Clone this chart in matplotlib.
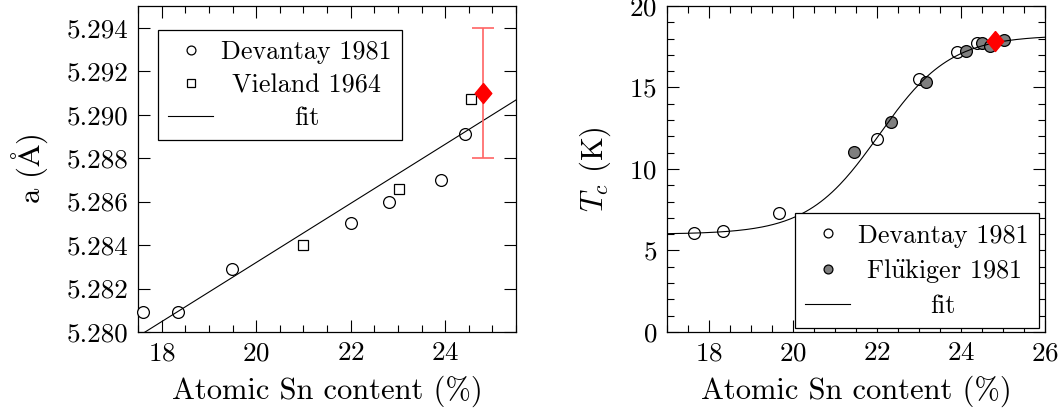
import numpy as np
import matplotlib
matplotlib.use("Agg")
import matplotlib.pyplot as plt
from matplotlib.ticker import MultipleLocator, FormatStrFormatter
from matplotlib.offsetbox import HPacker, DrawingArea

plt.rcParams['font.family'] = 'serif'
plt.rcParams['font.serif'] = ['cmr10']
plt.rcParams['mathtext.fontset'] = 'cm'
plt.rcParams['axes.formatter.use_mathtext'] = True
plt.rcParams['axes.unicode_minus'] = False

# lattice parameter a (Angstrom) vs Sn content
dev_a_x = [17.61, 18.34, 19.49, 22.00, 22.82, 23.91, 24.42]
dev_a_y = [5.2809, 5.2809, 5.2829, 5.2850, 5.2860, 5.2870, 5.2891]
vie_a_x = [21.00, 23.03, 24.55]
vie_a_y = [5.2840, 5.2866, 5.2907]
a_fit = [1.36e-3, 5.255996]          # slope, intercept
sample_x = 24.8
sample_a = 5.291
sample_a_err = 0.003

# critical temperature Tc (K) vs Sn content
dev_tc_x = [17.64, 18.34, 19.66, 22.00, 23.00, 23.91, 24.37]
dev_tc_y = [6.07, 6.20, 7.33, 11.83, 15.54, 17.19, 17.71]
flu_tc_x = [21.45, 22.34, 23.17, 24.13, 24.49, 24.69, 25.03]
flu_tc_y = [11.07, 12.89, 15.36, 17.25, 17.75, 17.54, 17.91]
tc_fit = [6.0, 18.2, 22.05, 0.85]    # low, high, centre, width
sample_tc = 17.85

TICK_FS = 19.5
LABEL_FS = 22
LEG_FS = 18.8

# diamond a bit wider than the built-in thin one
DIAMOND = [(0, 1), (0.83, 0), (0, -1), (-0.83, 0), (0, 1)]


def boltzmann(x, lo, hi, x0, dx):
    return hi + (lo - hi) / (1 + np.exp((x - x0) / dx))


def style_axes(ax):
    ax.tick_params(which='both', direction='in', top=True, right=True,
                   labelsize=TICK_FS, pad=7)
    ax.tick_params(which='major', length=8.5, width=0.8)
    ax.tick_params(which='minor', length=5, width=0.8)
    for s in ax.spines.values():
        s.set_linewidth(0.9)


def make_legend(ax, **kw):
    leg = ax.legend(borderaxespad=0, fontsize=LEG_FS, fancybox=False, framealpha=1,
                    edgecolor='black', handlelength=1.72, handletextpad=0.3,
                    borderpad=0.4, labelspacing=0.35, markerscale=0.75, **kw)
    leg.get_frame().set_linewidth(0.9)
    leg.set_zorder(10)
    return leg


def center_legend_text(leg):
    # put legend labels in the middle of the text column
    r = leg.figure.canvas.get_renderer()
    col = leg._legend_handle_box.get_children()[0]
    rows = col.get_children()
    wmax = max(row.get_children()[1].get_bbox(r).width for row in rows)
    for row in rows:
        h, t = row.get_children()
        row._children = [h, HPacker(pad=0, sep=0, width=wmax, mode='expand',
                                    align='baseline',
                                    children=[DrawingArea(0, 0), t, DrawingArea(0, 0)])]


fig = plt.figure(figsize=(10.6, 4.17), dpi=100)
ax1 = fig.add_axes([138 / 1060, 85 / 417, 378 / 1060, 326 / 417])
ax2 = fig.add_axes([667 / 1060, 85 / 417, 378 / 1060, 326 / 417])

# left panel
ax1.plot(dev_a_x, dev_a_y, 'o', ms=8.5, mfc='white', mec='black', mew=0.9,
         label='Devantay 1981', clip_on=False, zorder=3)
ax1.plot(vie_a_x, vie_a_y, 's', ms=7.8, mfc='white', mec='black', mew=0.9,
         label='Vieland 1964', zorder=3)
xf = np.linspace(17.5, 25.5, 50)
ax1.plot(xf, np.polyval(a_fit, xf), '-', color='black', lw=0.8, label='fit', zorder=4)
ax1.errorbar([sample_x], [sample_a], yerr=[sample_a_err], fmt='none',
             ecolor='#ff6464', elinewidth=1.2, capsize=7.8, capthick=1.2, zorder=5)
ax1.plot([sample_x], [sample_a], marker=DIAMOND, ms=14.4, color='red', ls='none', zorder=6)

ax1.set_xlim(17.5, 25.5)
ax1.set_ylim(5.280, 5.295)
ax1.xaxis.set_major_locator(MultipleLocator(2))
ax1.xaxis.set_minor_locator(MultipleLocator(0.5))
ax1.yaxis.set_major_locator(MultipleLocator(0.002))
ax1.yaxis.set_major_formatter(FormatStrFormatter('%.3f'))
style_axes(ax1)
ax1.set_xlabel('Atomic Sn content (%)', fontsize=LABEL_FS, labelpad=7)
ax1.set_ylabel(r'a ($\mathrm{\AA}$)', fontsize=LABEL_FS, labelpad=12)

leg1 = make_legend(ax1, loc='upper left', bbox_to_anchor=(0.053, 0.926))

# right panel
ax2.plot(dev_tc_x, dev_tc_y, 'o', ms=8.5, mfc='white', mec='black', mew=0.9,
         label='Devantay 1981', zorder=3)
ax2.plot(flu_tc_x, flu_tc_y, 'o', ms=8.5, mfc='#7f7f7f', mec='black', mew=0.9,
         label=r'Fl$\ddot{\mathrm{u}}$kiger 1981', zorder=3)
xt = np.linspace(17, 26, 200)
ax2.plot(xt, boltzmann(xt, *tc_fit), '-', color='black', lw=0.8, label='fit', zorder=4)
ax2.plot([sample_x], [sample_tc], marker=DIAMOND, ms=14.4, color='red', ls='none', zorder=6)

ax2.set_xlim(17, 26)
ax2.set_ylim(0, 20)
ax2.xaxis.set_major_locator(MultipleLocator(2))
ax2.xaxis.set_minor_locator(MultipleLocator(0.5))
ax2.yaxis.set_major_locator(MultipleLocator(5))
ax2.yaxis.set_minor_locator(MultipleLocator(1))
style_axes(ax2)
ax2.set_xlabel('Atomic Sn content (%)', fontsize=LABEL_FS, labelpad=7)
ax2.set_ylabel(r'$T_c$ (K)', fontsize=LABEL_FS, labelpad=12)

leg2 = make_legend(ax2, loc='lower right', bbox_to_anchor=(0.984, 0.012))

center_legend_text(leg1)
center_legend_text(leg2)

fig.savefig('out.png', dpi=100)
